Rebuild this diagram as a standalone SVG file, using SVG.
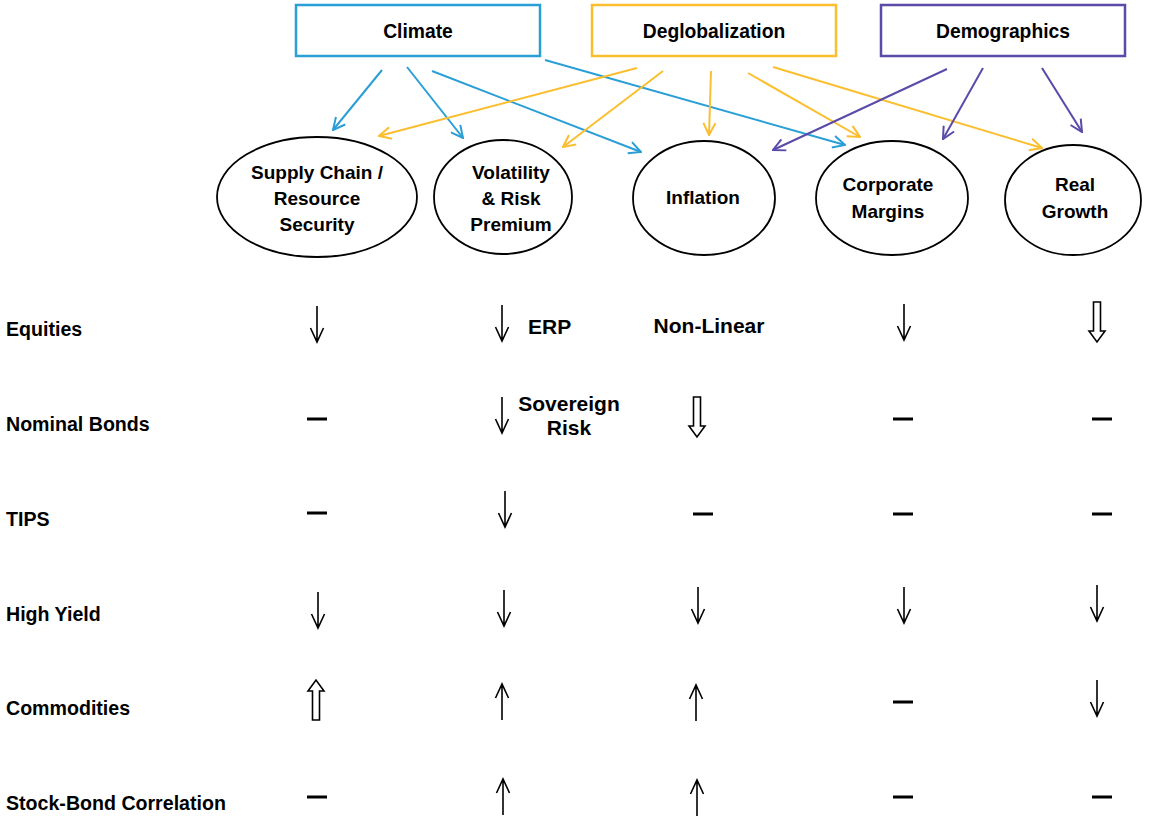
<svg xmlns="http://www.w3.org/2000/svg" width="1173" height="818" viewBox="0 0 1173 818">
<style>
text{font-family:"Liberation Sans",Arial,sans-serif;font-weight:bold;fill:#000}
.hdr{font-size:19.3px;text-anchor:middle}
.nd{font-size:19px;text-anchor:middle}
.row{font-size:19.6px}
.lbl{font-size:21px}
.box{fill:#fff;stroke-width:2.5}
.ell{fill:#fff;stroke:#000;stroke-width:1.8}
.cb{stroke:#2A9FD6;stroke-width:2;fill:none;marker-end:url(#mb)}
.cy{stroke:#FBBE2E;stroke-width:2;fill:none;marker-end:url(#my)}
.cp{stroke:#5B4AA8;stroke-width:2;fill:none;marker-end:url(#mp)}
.thin{stroke:#000;stroke-width:1.6;fill:none}
.hol{stroke:#000;stroke-width:1.6;fill:#fff}
</style>
<defs>
<marker id="mb" viewBox="0 0 14 14" refX="13" refY="7" markerWidth="14" markerHeight="14" markerUnits="userSpaceOnUse" orient="auto"><path d="M1,1 L13,7 L1,13" fill="none" stroke="#2A9FD6" stroke-width="2"/></marker>
<marker id="my" viewBox="0 0 14 14" refX="13" refY="7" markerWidth="14" markerHeight="14" markerUnits="userSpaceOnUse" orient="auto"><path d="M1,1 L13,7 L1,13" fill="none" stroke="#FBBE2E" stroke-width="2"/></marker>
<marker id="mp" viewBox="0 0 14 14" refX="13" refY="7" markerWidth="14" markerHeight="14" markerUnits="userSpaceOnUse" orient="auto"><path d="M1,1 L13,7 L1,13" fill="none" stroke="#5B4AA8" stroke-width="2"/></marker>
<g id="dn"><path class="thin" d="M0,-18 V18 M-6.5,4 L0,18 L6.5,4"/></g>
<g id="up"><path class="thin" d="M0,18 V-18 M-6.5,-4 L0,-18 L6.5,-4"/></g>
<g id="hdn"><path class="hol" d="M-3.5,-20 H3.5 V9 H8 L0,20 L-8,9 H-3.5 Z"/></g>
<g id="hup"><path class="hol" d="M-3.5,20 H3.5 V-9 H8 L0,-20 L-8,-9 H-3.5 Z"/></g>
<g id="dash"><rect x="-10" y="-1.5" width="20" height="3" fill="#000"/></g>
</defs>
<rect width="1173" height="818" fill="#fff"/>

<g id="connectors">
<path class="cb" d="M382,70 L333,130"/>
<path class="cb" d="M407,67 L463,138"/>
<path class="cb" d="M432,71 L641,152"/>
<path class="cb" d="M545,60 L845,145"/>
<path class="cy" d="M637,68 L379,136"/>
<path class="cy" d="M663,71 L563,147"/>
<path class="cy" d="M711,71 L709,135"/>
<path class="cy" d="M748,73 L860,137"/>
<path class="cy" d="M773,67 L1042,148"/>
<path class="cp" d="M947,69 L773,150"/>
<path class="cp" d="M983,68 L943,139"/>
<path class="cp" d="M1042,68 L1082,132"/>
</g>

<g id="climate"><rect class="box" x="296" y="5" width="244" height="51" stroke="#2A9FD6"/><text class="hdr" x="418" y="38">Climate</text></g>
<g id="deglobalization"><rect class="box" x="592" y="5" width="244" height="51" stroke="#FBBE2E"/><text class="hdr" x="714" y="38">Deglobalization</text></g>
<g id="demographics"><rect class="box" x="881" y="5" width="244" height="51" stroke="#5B4AA8"/><text class="hdr" x="1003" y="38">Demographics</text></g>

<g id="supply"><ellipse class="ell" cx="317" cy="197" rx="100" ry="60"/><text class="nd" x="317" y="179">Supply Chain /</text><text class="nd" x="317" y="205">Resource</text><text class="nd" x="317" y="231">Security</text></g>
<g id="volatility"><ellipse class="ell" cx="503" cy="197" rx="69" ry="57"/><text class="nd" x="511" y="179">Volatility</text><text class="nd" x="511" y="205">&amp; Risk</text><text class="nd" x="511" y="231">Premium</text></g>
<g id="inflation"><ellipse class="ell" cx="704" cy="198" rx="71" ry="57"/><text class="nd" x="703" y="204">Inflation</text></g>
<g id="margins"><ellipse class="ell" cx="892" cy="198" rx="76" ry="57"/><text class="nd" x="888" y="191">Corporate</text><text class="nd" x="888" y="218">Margins</text></g>
<g id="growth"><ellipse class="ell" cx="1073" cy="200" rx="68" ry="55"/><text class="nd" x="1075" y="191">Real</text><text class="nd" x="1075" y="218">Growth</text></g>

<g id="rows">
<text class="row" x="6" y="336">Equities</text>
<text class="row" x="6" y="431">Nominal Bonds</text>
<text class="row" x="6" y="526">TIPS</text>
<text class="row" x="6" y="621">High Yield</text>
<text class="row" x="6" y="715">Commodities</text>
<text class="row" x="6" y="810">Stock-Bond Correlation</text>
</g>

<g id="cells">
<use href="#dn" x="317" y="324"/>
<use href="#dn" x="502" y="323"/>
<text class="lbl" x="528" y="334">ERP</text>
<text class="lbl" x="709" y="333" text-anchor="middle">Non-Linear</text>
<use href="#dn" x="904" y="322"/>
<use href="#hdn" x="1097" y="322"/>

<use href="#dash" x="317" y="419"/>
<use href="#dn" x="502" y="415"/>
<text class="lbl" x="569" y="411" text-anchor="middle">Sovereign</text>
<text class="lbl" x="569" y="435" text-anchor="middle">Risk</text>
<use href="#hdn" x="697" y="417"/>
<use href="#dash" x="903" y="419"/>
<use href="#dash" x="1102" y="419"/>

<use href="#dash" x="317" y="513"/>
<use href="#dn" x="505" y="509"/>
<use href="#dash" x="703" y="514"/>
<use href="#dash" x="903" y="514"/>
<use href="#dash" x="1102" y="514"/>

<use href="#dn" x="318" y="610"/>
<use href="#dn" x="504" y="608"/>
<use href="#dn" x="698" y="605"/>
<use href="#dn" x="904" y="605"/>
<use href="#dn" x="1097" y="603"/>

<use href="#hup" x="316" y="700"/>
<use href="#up" x="502" y="702"/>
<use href="#up" x="696" y="703"/>
<use href="#dash" x="903" y="702"/>
<use href="#dn" x="1097" y="698"/>

<use href="#dash" x="317" y="797"/>
<use href="#up" x="503" y="797"/>
<use href="#up" x="697" y="798"/>
<use href="#dash" x="903" y="797"/>
<use href="#dash" x="1102" y="797"/>
</g>
</svg>
